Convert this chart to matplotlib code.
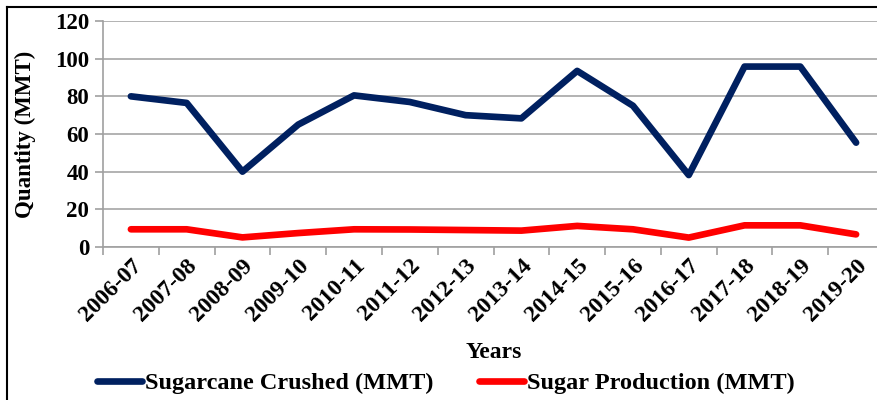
import matplotlib
matplotlib.use('Agg')
import matplotlib.pyplot as plt
from matplotlib.lines import Line2D

# Data
years = ['2006-07', '2007-08', '2008-09', '2009-10', '2010-11', '2011-12', '2012-13',
         '2013-14', '2014-15', '2015-16', '2016-17', '2017-18', '2018-19', '2019-20']
crushed = [80, 76.5, 40, 65, 80.5, 77, 70, 68.3, 93.5, 75, 38.2, 95.8, 95.8, 55.4]
sugar = [9.4, 9.4, 5.1, 7.4, 9.4, 9.3, 9.0, 8.7, 11.2, 9.4, 5.0, 11.5, 11.5, 6.7]

plt.rcParams['font.family'] = 'Liberation Serif'
plt.rcParams['font.weight'] = 'bold'

fig = plt.figure(figsize=(8.78, 4), dpi=100)
# plot area runs a little past the right edge of the picture (cropped screenshot)
ax = fig.add_axes([103 / 878, 1 - 247 / 400, 781 / 878, 226 / 400])

x = list(range(len(years)))
ax.plot(x, crushed, color='#002060', linewidth=4.8, solid_capstyle='round',
        label='Sugarcane Crushed (MMT)')
ax.plot(x, sugar, color='#FF0000', linewidth=4.8, solid_capstyle='round',
        label='Sugar Production (MMT)')

ax.set_xlim(-0.5, len(years) - 0.5)
ax.set_ylim(0, 120)
ax.set_yticks(range(0, 121, 20))
ax.set_xticks(x)
ax.set_xticklabels(years, rotation=45, ha='right', rotation_mode='anchor', fontsize=17)
ax.tick_params(axis='x', which='major', length=0, pad=6)
ax.set_xticks([i - 0.5 for i in range(len(years) + 1)], minor=True)
ax.tick_params(axis='x', which='minor', length=6, width=1.2, color='#A0A0A0')
ax.tick_params(axis='y', length=6, width=1.2, color='#A0A0A0', labelsize=16.5, pad=4)

ax.grid(axis='y', color='#A6A6A6', linewidth=1.2)
ax.set_axisbelow(True)
for side in ['top', 'right']:
    ax.spines[side].set_visible(False)
for side in ['left', 'bottom']:
    ax.spines[side].set_color('#A0A0A0')
    ax.spines[side].set_linewidth(1.2)

fig.text(25 / 878, 1 - 134 / 400, 'Quantity (MMT)', rotation=90, ha='center', va='center',
         fontsize=16.5, fontweight='bold')
fig.text(494 / 878, 1 - 353 / 400, 'Years', ha='center', va='center',
         fontsize=17, fontweight='bold')

fig.legend(loc='center', bbox_to_anchor=(446 / 878, 1 - 383 / 400), ncol=2, frameon=False,
           fontsize=17.5, handlelength=1.85, handletextpad=0.1, columnspacing=1.9)

# outer frame (left and top edges only are visible)
fig.add_artist(Line2D([7 / 878, 7 / 878], [0, 1 - 7 / 400], color='black', linewidth=1.5,
                      transform=fig.transFigure))
fig.add_artist(Line2D([7 / 878, 1], [1 - 7 / 400, 1 - 7 / 400], color='black', linewidth=1.5,
                      transform=fig.transFigure))

fig.savefig('out.png', dpi=100)
